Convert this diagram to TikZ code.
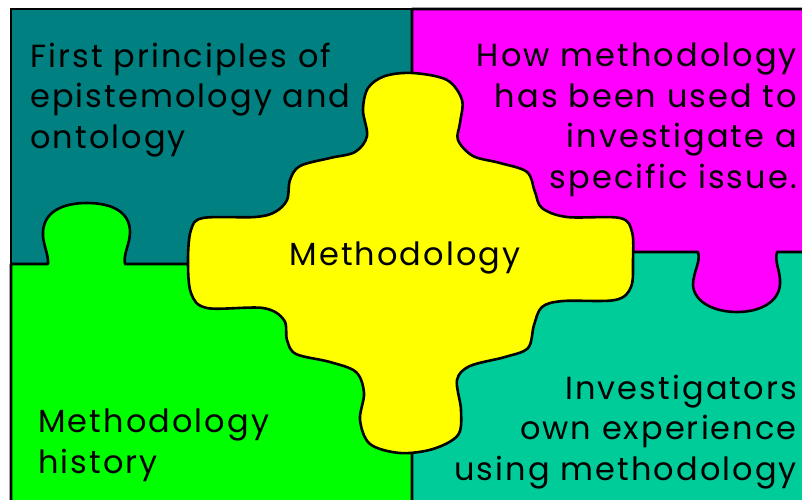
\documentclass[tikz,border=0pt]{standalone}
\usepackage{fontspec}
\setmainfont{Poppins}[LetterSpace=6.5]
\definecolor{tealpiece}{RGB}{0,128,128}
\definecolor{magentapiece}{RGB}{255,0,255}
\definecolor{limepiece}{RGB}{0,255,0}
\definecolor{yellowpiece}{RGB}{255,255,0}
\definecolor{seapiece}{RGB}{0,204,153}
\tikzset{
  piece/.style={draw=black, line width=2.6pt, line join=round},
  label/.style={inner sep=0pt, font=\fontsize{32}{40.5}\selectfont},
}
\begin{document}
\begin{tikzpicture}[x=1pt,y=-1pt]
\useasboundingbox (0,0) rectangle (802,499);
\clip (0,0) rectangle (802,499);
% plain quarters
\path[piece, fill=tealpiece] (11,9) rectangle (412,264);
\path[piece, fill=seapiece] (412,252) rectangle (830,530);
% lower left quarter with its knob
\path[piece, fill=limepiece] (11,264) -- (48,264)
  .. controls (49,255) and (42,242) .. (43,232)
  .. controls (44,212) and (62,203) .. (87,203)
  .. controls (112,203) and (130,212) .. (130,232)
  .. controls (130,244) and (123,254) .. (125,264)
  -- (412,264) -- (412,530) -- (11,530) -- cycle;
% upper right quarter with its knob
\path[piece, fill=magentapiece] (412,9) -- (830,9) -- (830,252) -- (777,252)
  .. controls (774,262) and (781,272) .. (780,284)
  .. controls (779,302) and (760,312) .. (737,312)
  .. controls (714,312) and (694,302) .. (693,285)
  .. controls (693,272) and (701,262) .. (698,252)
  -- (412,252) -- cycle;
% central piece
\path[piece, fill=yellowpiece] plot[smooth cycle, tension=0.55] coordinates {
  (413,73) (447,80) (462,100) (460,123) (458,140) (473,156) (500,163)
  (527,172) (535,192) (542,208) (567,217) (620,218) (632,232) (633,260)
  (631,287) (615,300) (563,301) (542,307) (534,325) (528,348) (505,357)
  (470,366) (457,380) (461,410) (458,435) (433,449) (400,453) (370,444)
  (360,420) (364,393) (356,372) (330,362) (296,354) (287,340) (284,320)
  (263,308) (207,308) (191,293) (188,260) (191,230) (203,218) (255,217)
  (275,212) (287,200) (290,180) (300,166) (330,158) (355,152) (367,136)
  (363,110) (368,88) (385,76)};
% outer frame
\draw[line width=2.6pt] (11,9) rectangle (830,530);
% texts (base anchor sits on the last line)
\node[label, anchor=base west, align=left] (principles) at (30,148)
  {First principles of\\epistemology and\\ontology};
\node[label, anchor=base east, align=right] (usage) at (797,188)
  {How methodology\\has been used to\\investigate a\\specific issue.};
\node[label, anchor=base] (core) at (405,265) {Methodology};
\node[label, anchor=base west, align=left] (history) at (38,473)
  {Methodology\\history};
\node[label, anchor=base east, align=right] (experience) at (797,480)
  {Investigators\\own experience\\using methodology};
\end{tikzpicture}
\end{document}
